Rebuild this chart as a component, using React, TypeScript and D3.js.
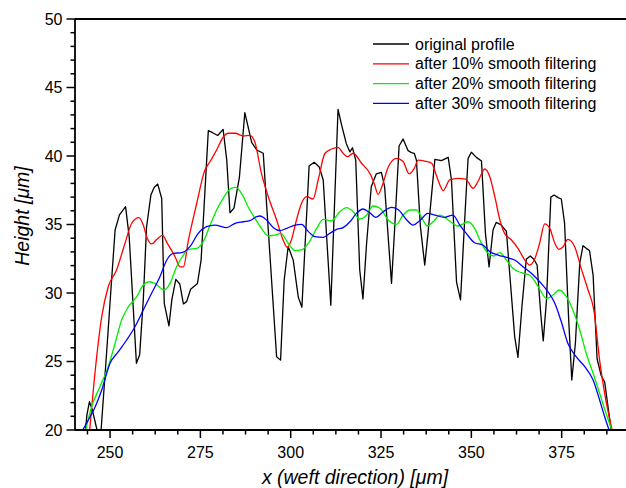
import React from "react";
import * as d3 from "d3";

const origX = [243.0, 243.6, 244.3, 245.1, 246.4, 247.2, 249.1, 250.3, 251.4, 252.6, 254.3, 255.3, 257.3, 258.2, 259.2, 260.1, 261.3, 262.2, 263.2, 264.3, 265.0, 266.3, 267.1, 268.2, 269.3, 270.3, 271.2, 272.3, 274.2, 275.2, 277.2, 278.4, 279.8, 281.3, 282.3, 283.2, 284.3, 285.8, 287.3, 289.2, 290.6, 292.4, 296.1, 297.2, 298.2, 299.3, 300.7, 302.1, 303.1, 305.1, 306.5, 307.9, 309.0, 311.1, 313.1, 314.2, 315.4, 316.4, 317.1, 318.0, 319.1, 320.0, 321.0, 322.3, 323.7, 325.1, 326.0, 327.9, 328.8, 330.0, 331.1, 332.5, 333.4, 334.2, 334.8, 335.9, 337.1, 338.0, 339.9, 341.7, 343.6, 344.5, 345.9, 347.0, 348.2, 349.1, 350.0, 351.4, 352.8, 353.9, 354.9, 356.0, 356.9, 358.3, 359.7, 362.0, 362.9, 364.0, 365.2, 366.3, 367.3, 368.2, 369.2, 369.9, 370.8, 372.0, 372.9, 374.0, 374.9, 375.8, 376.9, 377.8, 378.8, 380.0, 380.9, 381.8, 382.7, 383.7, 384.8, 385.9, 386.9, 389.0];
const origY = [19.5, 21.1, 22.07, 21.46, 20.0, 18.8, 25.84, 30.46, 34.6, 35.7, 36.3, 34.1, 24.87, 25.5, 29.5, 34.8, 37.15, 37.7, 37.95, 36.9, 29.25, 27.6, 29.5, 31.0, 30.66, 29.2, 29.37, 30.27, 30.7, 32.4, 41.85, 41.7, 41.5, 41.94, 39.7, 35.86, 36.2, 38.44, 43.16, 41.0, 40.44, 40.2, 25.35, 25.1, 30.95, 33.4, 32.4, 29.7, 28.96, 39.27, 39.54, 39.2, 38.25, 29.1, 43.4, 42.14, 40.9, 40.3, 40.6, 39.7, 31.7, 29.56, 33.6, 37.76, 38.7, 38.8, 37.76, 30.7, 34.84, 40.73, 41.24, 40.39, 40.25, 40.2, 39.7, 34.84, 32.04, 34.35, 39.75, 39.66, 39.9, 38.25, 30.8, 29.5, 35.57, 39.83, 40.27, 39.9, 39.63, 34.35, 31.9, 34.6, 35.16, 34.96, 34.5, 26.8, 25.3, 29.0, 32.46, 32.7, 32.46, 32.04, 28.5, 26.5, 29.5, 37.0, 37.15, 36.96, 36.86, 35.1, 28.27, 23.65, 26.33, 32.16, 33.45, 33.26, 33.1, 31.3, 25.2, 24.0, 23.5, 19.4];

const f10X = [244.2, 246.0, 247.7, 249.5, 251.8, 254.1, 256.0, 258.0, 259.2, 260.3, 261.5, 262.9, 264.5, 265.9, 268.0, 269.4, 270.3, 271.7, 274.0, 276.1, 277.7, 279.5, 281.3, 282.7, 284.6, 286.9, 288.7, 290.1, 291.9, 293.8, 296.1, 297.9, 299.1, 300.2, 301.6, 303.0, 304.4, 306.2, 307.6, 309.5, 311.3, 313.1, 314.5, 315.7, 317.3, 319.6, 321.9, 323.1, 324.2, 325.4, 327.0, 329.3, 331.1, 332.8, 334.2, 335.3, 337.1, 339.0, 340.3, 341.3, 342.2, 344.0, 346.3, 348.4, 350.5, 351.8, 353.7, 355.1, 356.5, 357.9, 359.2, 361.1, 362.9, 364.8, 366.2, 367.5, 368.9, 370.3, 371.7, 373.1, 374.2, 375.4, 376.7, 378.6, 380.4, 382.3, 383.9, 385.5, 386.9, 389.4];
const f10Y = [19.5, 24.6, 28.27, 30.46, 31.68, 33.6, 35.09, 35.5, 34.96, 33.99, 33.58, 33.9, 34.2, 33.6, 32.65, 31.9, 31.9, 33.87, 36.55, 38.86, 39.6, 40.44, 41.37, 41.66, 41.66, 41.46, 41.5, 41.0, 38.73, 37.03, 35.33, 33.87, 33.33, 33.87, 35.33, 36.55, 37.03, 36.86, 38.25, 40.2, 40.51, 40.63, 40.2, 39.95, 40.2, 39.47, 38.73, 38.0, 37.2, 37.88, 39.2, 39.83, 39.6, 38.7, 39.1, 39.7, 39.63, 39.47, 38.6, 37.88, 37.47, 38.25, 38.37, 38.32, 37.64, 38.12, 39.05, 38.49, 37.03, 35.33, 34.35, 33.87, 33.26, 32.4, 32.04, 32.46, 33.63, 35.04, 34.72, 33.63, 33.19, 33.38, 33.92, 33.38, 31.8, 30.22, 28.76, 25.1, 22.68, 19.5];

const f20X = [242.9, 244.9, 247.2, 249.5, 251.4, 253.2, 255.1, 257.4, 259.2, 260.8, 262.4, 265.0, 266.6, 268.4, 270.3, 271.8, 274.0, 275.8, 277.7, 279.5, 281.3, 283.5, 284.8, 286.4, 288.2, 290.1, 291.9, 293.8, 295.6, 297.3, 299.3, 301.2, 303.0, 304.9, 307.2, 309.0, 311.3, 313.6, 315.5, 317.3, 319.1, 320.8, 322.8, 324.7, 327.0, 329.3, 331.1, 333.0, 334.8, 336.6, 337.8, 339.4, 341.3, 343.6, 346.3, 349.1, 350.9, 352.8, 354.6, 356.3, 357.9, 359.7, 361.5, 363.9, 366.2, 368.5, 370.8, 372.6, 374.3, 376.3, 378.1, 380.0, 381.8, 383.7, 385.5, 387.3, 389.4];
const f20Y = [19.6, 21.7, 23.16, 24.62, 26.33, 28.03, 29.0, 29.73, 30.58, 30.82, 30.7, 30.22, 30.7, 31.92, 32.77, 33.19, 33.26, 33.75, 34.96, 36.06, 36.91, 37.64, 37.71, 37.27, 36.3, 35.45, 34.72, 34.16, 34.23, 34.35, 33.63, 33.09, 33.14, 33.63, 34.72, 35.37, 35.27, 35.93, 36.23, 35.93, 35.4, 35.62, 36.35, 36.18, 35.33, 35.01, 35.69, 36.06, 36.06, 35.33, 34.89, 35.2, 35.69, 35.33, 34.89, 35.2, 34.72, 33.63, 32.9, 32.7, 32.94, 32.41, 31.8, 31.48, 31.3, 30.46, 29.6, 29.85, 30.22, 29.73, 28.76, 27.3, 25.6, 24.14, 22.68, 21.2, 19.6];

const f30X = [242.0, 244.0, 245.9, 247.7, 250.0, 252.3, 254.6, 256.9, 259.2, 261.5, 263.8, 265.7, 267.5, 269.8, 272.1, 274.4, 276.7, 279.0, 282.3, 284.6, 286.9, 288.7, 290.6, 291.5, 293.3, 295.2, 297.0, 298.9, 301.2, 303.0, 304.9, 306.7, 309.0, 310.8, 312.7, 314.5, 316.4, 318.2, 320.0, 321.9, 323.5, 325.6, 327.9, 329.7, 332.0, 333.9, 335.7, 338.0, 339.9, 342.6, 344.9, 346.8, 348.6, 350.9, 353.2, 355.1, 357.4, 359.7, 362.0, 364.3, 366.6, 368.9, 371.2, 373.1, 374.9, 376.7, 379.0, 381.4, 383.7, 385.5, 386.9, 388.5];
const f30Y = [19.8, 20.73, 21.7, 22.92, 24.87, 25.72, 26.57, 27.54, 28.76, 29.98, 31.19, 32.41, 32.9, 32.94, 33.38, 34.35, 34.84, 34.96, 34.77, 35.09, 35.2, 35.28, 35.57, 35.62, 35.33, 34.77, 34.55, 34.72, 34.96, 35.01, 34.48, 34.11, 34.06, 34.35, 34.64, 34.77, 35.2, 35.81, 36.13, 35.86, 35.52, 35.93, 36.25, 36.1, 35.37, 34.96, 35.28, 35.81, 35.69, 35.52, 35.69, 34.96, 34.35, 33.67, 33.5, 33.02, 32.77, 32.6, 32.41, 31.92, 31.44, 30.82, 30.09, 29.25, 27.9, 26.33, 25.35, 24.62, 23.65, 22.19, 20.97, 19.7];

const xTicks = [250, 275, 300, 325, 350, 375];
const yTicks = [20, 25, 30, 35, 40, 45, 50];
const legendLabels = ["original profile", "after 10% smooth filtering", "after 20% smooth filtering", "after 30% smooth filtering"];
const seriesColors = ["#000000", "#ff0000", "#00ee00", "#0000ff"];

const W = 626;
const H = 488;
const left = 75;
const right = 652;
const top = 19;
const bottom = 430;

export default function App() {
  const x = d3.scaleLinear().domain([240.3, 400]).range([left, right]);
  const y = d3.scaleLinear().domain([20, 50]).range([bottom, top]);

  const series = [
    { xs: origX, ys: origY, curve: d3.curveLinear },
    { xs: f10X, ys: f10Y, curve: d3.curveMonotoneX },
    { xs: f20X, ys: f20Y, curve: d3.curveMonotoneX },
    { xs: f30X, ys: f30Y, curve: d3.curveMonotoneX },
  ];

  const lineGen = (xs: number[], ys: number[], curve: any) =>
    d3
      .line<number>()
      .x((_, i) => x(xs[i]))
      .y((d) => y(d))
      .curve(curve)(ys) || "";

  const xMinor: number[] = [];
  for (let v = 243.75; v <= 400; v += 6.25) {
    if (!xTicks.some((t) => Math.abs(t - v) < 0.01)) xMinor.push(v);
  }
  const yMinor: number[] = [];
  for (let v = 20; v <= 50; v += 1) {
    if (!yTicks.includes(v)) yMinor.push(v);
  }

  const font = "'Liberation Sans', Arial, sans-serif";
  const legendY0 = 44;
  const legendDY = 19.8;

  return (
    <svg
      width={W}
      height={H}
      style={{ position: "absolute", left: 0, top: 0, background: "#fff" }}
      fontFamily={font}
    >
      <defs>
        <clipPath id="plotClip">
          <rect x={left} y={top} width={right - left} height={bottom - top} />
        </clipPath>
      </defs>
      <rect x={0} y={0} width={W} height={H} fill="#fff" />

      <g clipPath="url(#plotClip)" fill="none" strokeWidth={1.3} strokeLinejoin="round">
        {series.map((s, i) => (
          <path key={i} d={lineGen(s.xs, s.ys, s.curve)} stroke={seriesColors[i]} />
        ))}
      </g>

      <g stroke="#000" strokeWidth={1.8} fill="none">
        <line x1={left} x2={right} y1={bottom} y2={bottom} />
        <line x1={left} x2={right} y1={top} y2={top} />
        <line x1={left} x2={left} y1={top} y2={bottom} />
        <line x1={right} x2={right} y1={top} y2={bottom} />
      </g>

      <g stroke="#000" strokeWidth={1.5}>
        {xTicks.map((t) => (
          <line key={"xm" + t} x1={x(t)} x2={x(t)} y1={bottom} y2={bottom + 8} />
        ))}
        {xMinor.map((t) => (
          <line key={"xn" + t} x1={x(t)} x2={x(t)} y1={bottom} y2={bottom + 4.5} />
        ))}
        {yTicks.map((t) => (
          <line key={"ym" + t} x1={left - 8.5} x2={left} y1={y(t)} y2={y(t)} />
        ))}
        {yMinor.map((t) => (
          <line key={"yn" + t} x1={left - 4.5} x2={left} y1={y(t)} y2={y(t)} />
        ))}
      </g>

      <g fontSize={16} fill="#000">
        {xTicks.map((t) => (
          <text key={"xl" + t} x={x(t)} y={457.5} textAnchor="middle">
            {t}
          </text>
        ))}
        {yTicks.map((t) => (
          <text key={"yl" + t} x={62.5} y={y(t)} dy="0.36em" textAnchor="end">
            {t}
          </text>
        ))}
      </g>

      <text x={355} y={484} fontSize={19.5} fontStyle="italic" textAnchor="middle">
        x (weft direction) [μm]
      </text>
      <text
        transform={`translate(29,216) rotate(-90)`}
        fontSize={19.5}
        fontStyle="italic"
        textAnchor="middle"
      >
        Height [μm]
      </text>

      <g>
        {legendLabels.map((lab, i) => (
          <g key={lab}>
            <line
              x1={373}
              x2={409}
              y1={legendY0 + i * legendDY}
              y2={legendY0 + i * legendDY}
              stroke={seriesColors[i]}
              strokeWidth={1.3}
            />
            <text x={415} y={legendY0 + i * legendDY} dy="0.35em" fontSize={16}>
              {lab}
            </text>
          </g>
        ))}
      </g>
    </svg>
  );
}
